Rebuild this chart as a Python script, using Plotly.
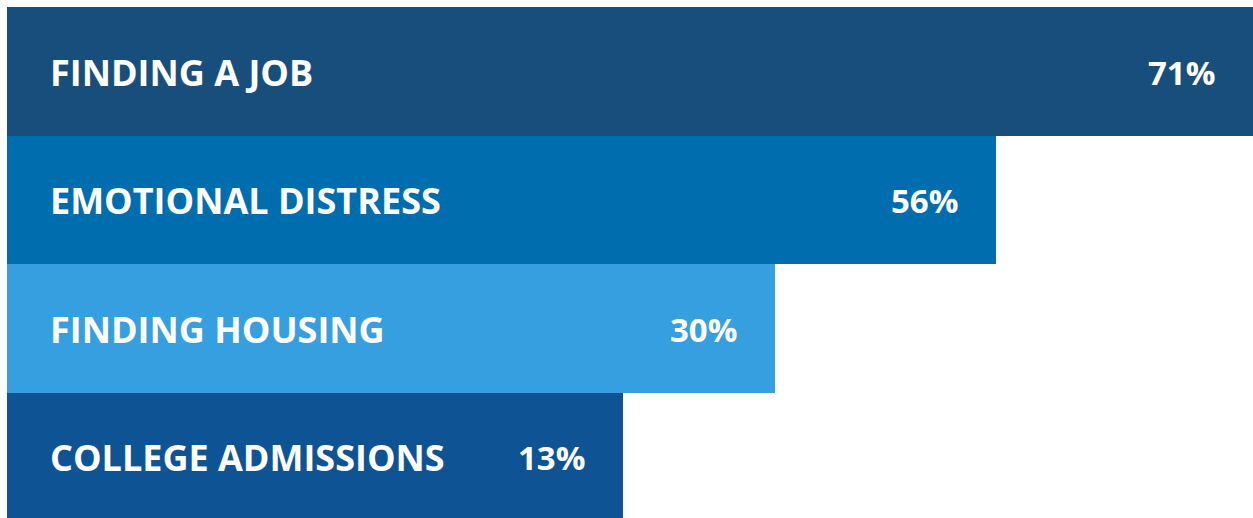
import plotly.graph_objects as go

categories = ["FINDING A JOB", "EMOTIONAL DISTRESS", "FINDING HOUSING", "COLLEGE ADMISSIONS"]
values = [71, 56, 30, 13]
value_labels = ["71%", "56%", "30%", "13%"]
# visual bar lengths as drawn in the infographic (percent of the widest bar)
bar_lengths = [100, 79.4, 61.6, 49.4]
colors = ["#184e7c", "#006dae", "#359fdf", "#0e5394"]

fig = go.Figure(go.Bar(
    y=categories, x=bar_lengths, orientation="h",
    marker=dict(color=colors, line=dict(width=0)),
    hoverinfo="skip", customdata=values,
))

label_font = dict(family="Open Sans", size=36, color="white", weight=700)
value_font = dict(family="Open Sans", size=33, color="white", weight=700)
for cat, bl, vl in zip(categories, bar_lengths, value_labels):
    fig.add_annotation(x=0, y=cat, xref="x", yref="y", text=cat, showarrow=False,
                       xanchor="left", xshift=41, yshift=-1, font=label_font)
    fig.add_annotation(x=bl, y=cat, xref="x", yref="y", text=vl, showarrow=False,
                       xanchor="right", xshift=-36, yshift=-1, font=value_font)

fig.update_layout(
    width=1253, height=521,
    margin=dict(l=7, r=0, t=7, b=0),
    paper_bgcolor="white", plot_bgcolor="white",
    bargap=0, showlegend=False,
    xaxis=dict(range=[0, 100], visible=False, fixedrange=True),
    yaxis=dict(autorange="reversed", visible=False, fixedrange=True),
)
fig.write_html(
    "out.html",
    config={"displayModeBar": False, "staticPlot": True},
    post_script="document.body.style.margin='0';document.body.style.overflow='hidden';",
)
